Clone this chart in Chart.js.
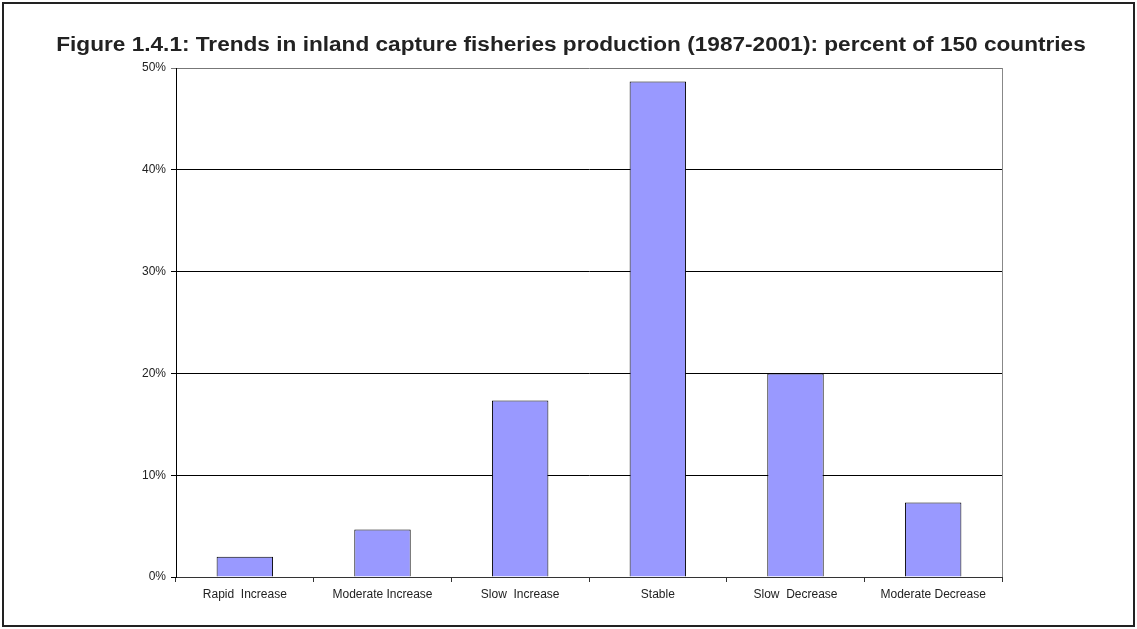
<!DOCTYPE html>
<html>
<head>
<meta charset="utf-8">
<script src="https://cdn.jsdelivr.net/npm/chart.js@4"></script>
<style>
  html, body { margin: 0; padding: 0; background: #fff; }
  #wrap { width: 1137px; height: 629px; position: relative; }
  canvas { display: block; }
</style>
</head>
<body>
<div id="wrap"><canvas id="c" width="1137" height="629"></canvas></div>
<script>
// Trend categories and share of the 150 countries in each (percent)
const categories = ['Rapid  Increase', 'Moderate Increase', 'Slow  Increase', 'Stable', 'Slow  Decrease', 'Moderate Decrease'];
const shares = [2.0, 4.67, 17.33, 48.67, 20.0, 7.33];
const yTicks = [0, 10, 20, 30, 40, 50];
const titleText = 'Figure 1.4.1: Trends in inland capture fisheries production (1987-2001): percent of 150 countries';

const FONT = "'Liberation Sans', Arial, sans-serif";

// Wide bold heading across the whole figure
const headingPlugin = {
  id: 'heading',
  afterDraw(chart) {
    const ctx = chart.ctx;
    ctx.save();
    ctx.font = 'bold 19.5px ' + FONT;
    ctx.fillStyle = '#222';
    ctx.textAlign = 'center';
    ctx.textBaseline = 'alphabetic';
    ctx.translate(571, 51);
    ctx.scale(1.16, 1);
    ctx.fillText(titleText, 0, 0);
    ctx.restore();
  }
};

// Outer frame around the figure and the plot's right edge
const framePlugin = {
  id: 'frame',
  afterDraw(chart) {
    const ctx = chart.ctx;
    const a = chart.chartArea;
    ctx.save();
    ctx.strokeStyle = '#888';
    ctx.lineWidth = 1;
    ctx.beginPath();
    ctx.moveTo(Math.round(a.right) + 0.5, a.top);
    ctx.lineTo(Math.round(a.right) + 0.5, a.bottom);
    ctx.stroke();
    ctx.strokeStyle = '#222';
    ctx.lineWidth = 2;
    ctx.strokeRect(3, 3, chart.width - 6, chart.height - 6);
    ctx.restore();
  }
};

new Chart(document.getElementById('c'), {
  type: 'bar',
  data: {
    labels: categories,
    datasets: [{
      data: shares,
      backgroundColor: '#9999FF',
      borderColor: '#000',
      borderWidth: 1,
      barPercentage: 0.41,
      categoryPercentage: 1.0
    }]
  },
  options: {
    responsive: false,
    animation: false,
    devicePixelRatio: 1,
    layout: { padding: { left: 0, right: 135, top: 68, bottom: 0 } },
    plugins: {
      legend: { display: false },
      tooltip: { enabled: false },
      title: { display: false }
    },
    scales: {
      x: {
        offset: true,
        grid: {
          offset: true,
          drawOnChartArea: false,
          drawTicks: true,
          tickLength: 5,
          color: '#333'
        },
        border: { display: true, color: '#333', width: 1 },
        ticks: {
          color: '#222',
          font: { family: FONT, size: 12 },
          maxRotation: 0,
          autoSkip: false,
          padding: 5
        },
        afterFit(scale) { scale.height = 52; }
      },
      y: {
        min: 0,
        max: 50,
        afterBuildTicks(scale) { scale.ticks = yTicks.map(v => ({ value: v })); },
        grid: {
          color: ctx => (ctx.tick && ctx.tick.value === 50 ? '#777' : '#000'),
          lineWidth: 1,
          drawTicks: true,
          tickLength: 5
        },
        border: { display: true, color: '#000', width: 1 },
        ticks: {
          color: '#222',
          font: { family: FONT, size: 12 },
          padding: 5,
          callback: v => v + '%'
        },
        afterFit(scale) { scale.width = 176; }
      }
    }
  },
  plugins: [headingPlugin, framePlugin]
});
</script>
</body>
</html>
